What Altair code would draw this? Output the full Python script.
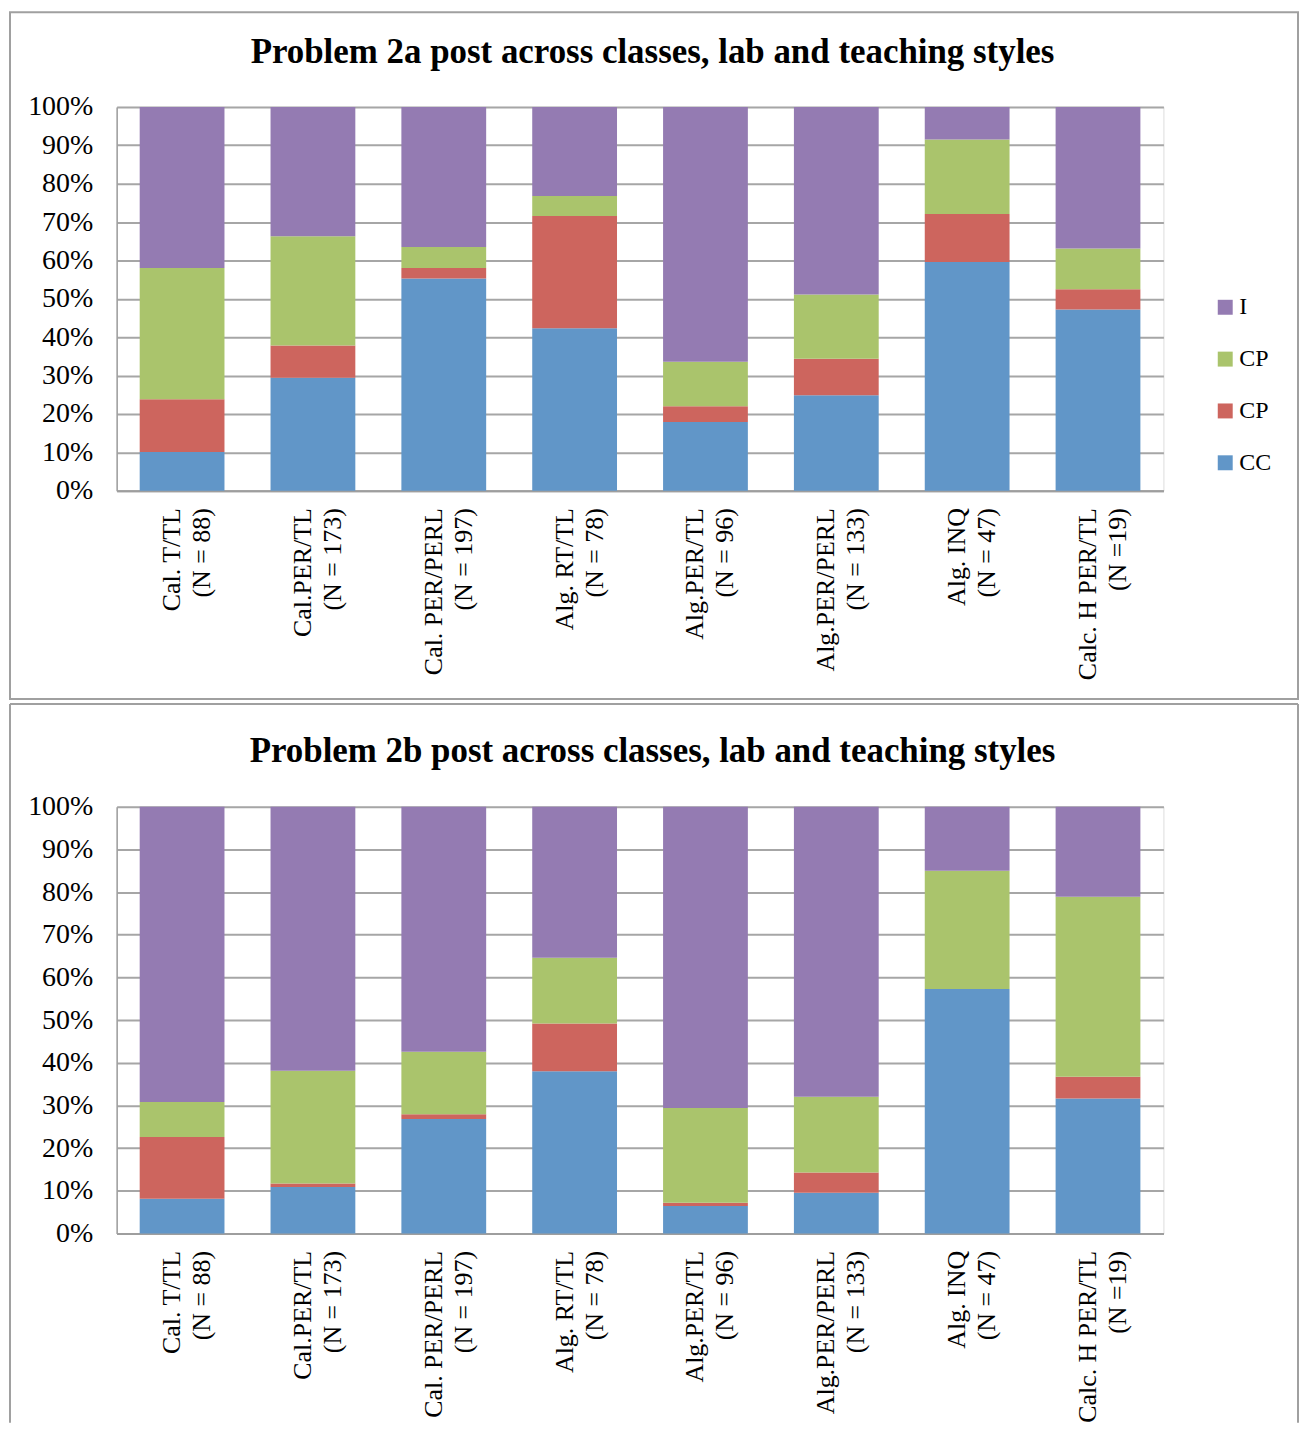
import altair as alt
import pandas as pd

# ---- data ----
categories = [
    "Cal. T/TL|(N = 88)",
    "Cal.PER/TL|(N = 173)",
    "Cal. PER/PERL|(N = 197)",
    "Alg. RT/TL|(N = 78)",
    "Alg.PER/TL|(N = 96)",
    "Alg.PER/PERL|(N = 133)",
    "Alg. INQ|(N = 47)",
    "Calc. H PER/TL|(N =19)",
]

# Problem 2a (segment sizes, %)
a_cc = [10.1, 29.4, 55.3, 42.3, 17.9, 24.9, 59.6, 47.2]
a_cp_red = [13.7, 8.4, 2.7, 29.3, 4.1, 9.5, 12.5, 5.3]
a_cp_green = [34.2, 28.5, 5.5, 5.2, 11.6, 16.7, 19.4, 10.6]
a_i = [42.0, 33.7, 36.5, 23.2, 66.4, 48.9, 8.5, 36.9]

# Problem 2b (segment sizes, %)
b_cc = [8.1, 10.9, 26.8, 38.0, 6.4, 9.5, 57.3, 31.6]
b_cp_red = [14.5, 0.8, 1.1, 11.2, 0.8, 4.8, 0.0, 5.1]
b_cp_green = [8.2, 26.4, 14.7, 15.4, 22.2, 17.7, 27.7, 42.2]
b_i = [69.2, 61.9, 57.4, 35.4, 70.6, 68.0, 15.0, 21.1]

series_keys = ["CC", "CP_red", "CP_green", "I"]
legend_order = ["I", "CP_green", "CP_red", "CC"]
legend_colors = ["#947BB2", "#AAC46C", "#CD655E", "#6196C8"]

title_a = "Problem 2a post across classes, lab and teaching styles"
title_b = "Problem 2b post across classes, lab and teaching styles"

FONT = "Liberation Serif"
GRID = "#A6A6A6"
FRAME = "#A0A0A0"
W = 1050


def build_df(cc, red, green, inc):
    rows = []
    for i, c in enumerate(categories):
        for k, vals in enumerate([cc, red, green, inc]):
            rows.append({"cat": c, "series": series_keys[k], "k": k, "v": vals[i]})
    return pd.DataFrame(rows)


def panel(title, cc, red, green, inc, H, frame_top, frame_bottom, closed, title_y, legend_y):
    df = build_df(cc, red, green, inc)
    bars = alt.Chart(df).mark_bar().encode(
        x=alt.X(
            "cat:N",
            sort=categories,
            scale=alt.Scale(paddingInner=0.352, paddingOuter=0.176),
            axis=alt.Axis(
                title=None,
                labelExpr="split(datum.label, '|')",
                labelAngle=270,
                labelAlign="right",
                labelBaseline="middle",
                labelFont=FONT,
                labelFontSize=26,
                labelLineHeight=30,
                labelPadding=17,
                labelOffset=-10,
                labelLimit=400,
                labelColor="black",
                ticks=False,
                grid=False,
                domainColor="#9E9E9E",
                domainWidth=2,
            ),
        ),
        y=alt.Y(
            "v:Q",
            stack="zero",
            scale=alt.Scale(domain=[0, 100], nice=False),
            axis=alt.Axis(
                title=None,
                values=list(range(0, 101, 10)),
                labelExpr="datum.value + '%'",
                labelFont=FONT,
                labelFontSize=28,
                labelColor="black",
                labelPadding=24,
                ticks=False,
                grid=True,
                gridColor=GRID,
                gridWidth=2,
                domainColor="#9E9E9E",
                domainWidth=1.5,
            ),
        ),
        color=alt.Color(
            "series:N",
            scale=alt.Scale(domain=legend_order, range=legend_colors),
            legend=alt.Legend(
                title=None,
                orient="none",
                legendX=1100,
                legendY=legend_y,
                symbolType="square",
                symbolSize=225,
                symbolStrokeWidth=0,
                symbolOpacity=1,
                labelFont=FONT,
                labelFontSize=24,
                labelColor="black",
                labelOffset=2,
                rowPadding=28,
                padding=0,
                labelExpr="(datum.label == 'CP_red' || datum.label == 'CP_green') ? 'CP' : datum.label",
            ),
        ),
        order=alt.Order("k:Q", sort="ascending"),
    )

    one = alt.Data(values=[{"d": 0}])
    frame_layers = []
    if closed:
        frame_layers.append(
            alt.Chart(one).mark_rect(filled=False, stroke=FRAME, strokeWidth=2).encode(
                x=alt.value(-107), x2=alt.value(1185),
                y=alt.value(frame_top), y2=alt.value(frame_bottom),
            )
        )
    else:
        frame_layers.append(
            alt.Chart(one).mark_rule(stroke=FRAME, strokeWidth=2).encode(
                x=alt.value(-107), y=alt.value(frame_top), y2=alt.value(frame_bottom)
            )
        )
        frame_layers.append(
            alt.Chart(one).mark_rule(stroke=FRAME, strokeWidth=2).encode(
                x=alt.value(1185), y=alt.value(frame_top), y2=alt.value(frame_bottom)
            )
        )
        frame_layers.append(
            alt.Chart(one).mark_rule(stroke=FRAME, strokeWidth=2).encode(
                x=alt.value(-107), x2=alt.value(1185), y=alt.value(frame_top)
            )
        )

    title_mark = alt.Chart(one).mark_text(
        text=title,
        font=FONT,
        fontSize=35,
        fontWeight="bold",
        align="center",
        baseline="alphabetic",
        color="black",
    ).encode(x=alt.value(537.5), y=alt.value(title_y))

    return alt.layer(*frame_layers, title_mark, bars).properties(width=W, height=H)


top = panel(title_a, a_cc, a_cp_red, a_cp_green, a_i, 385, -95, 594, True, -44, 189)
bottom = panel(title_b, b_cc, b_cp_red, b_cp_green, b_i, 428, -103, 618, False, -45, 210)

chart = (
    alt.vconcat(top, bottom, spacing=1)
    .properties(padding=0)
    .configure_view(stroke=None)
    .configure(font=FONT)
)

chart.save("out.html", embed_options={"renderer": "svg", "actions": False})
